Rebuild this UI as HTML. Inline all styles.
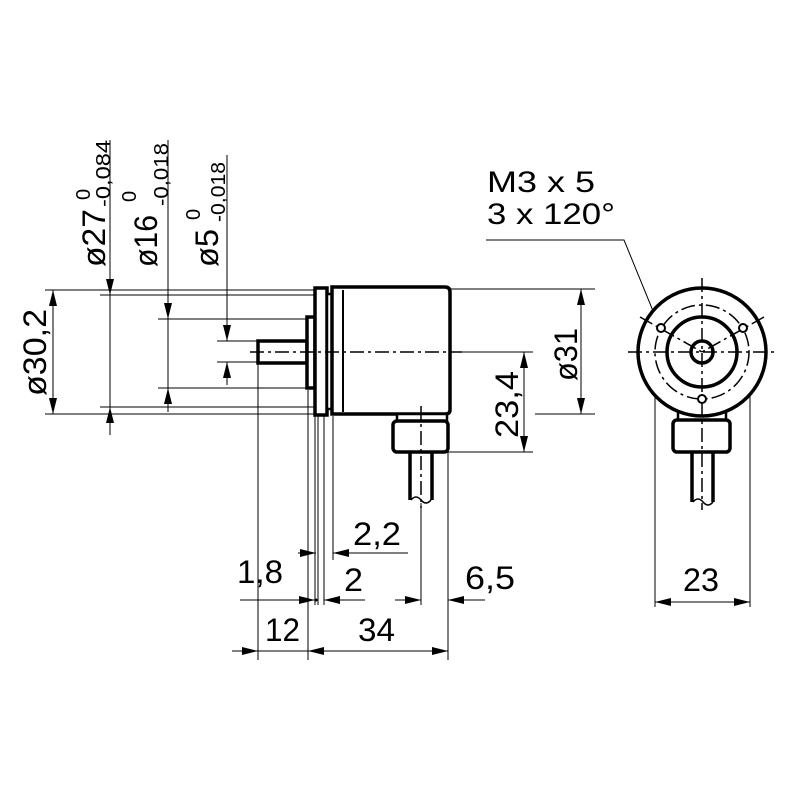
<!DOCTYPE html>
<html><head><meta charset="utf-8"><style>
html,body{margin:0;padding:0;background:#fff;}
svg{display:block;}
text{font-family:"Liberation Sans",sans-serif;fill:#000;}
</style></head><body>
<svg width="800" height="800" viewBox="0 0 800 800" xmlns="http://www.w3.org/2000/svg">
<defs>
<marker id="a" viewBox="0 0 16 8" refX="16" refY="4" markerWidth="16" markerHeight="8" markerUnits="userSpaceOnUse" orient="auto"><path d="M0,0 L16,4 L0,8 z" fill="#000"/></marker>
</defs>
<g stroke="#000" stroke-width="1" fill="none">
<line x1="45" y1="290" x2="315" y2="290"/>
<line x1="45" y1="414" x2="315" y2="414"/>
<line x1="100" y1="295" x2="315" y2="295"/>
<line x1="100" y1="407" x2="315" y2="407"/>
<line x1="158" y1="319" x2="307" y2="319"/>
<line x1="158" y1="388" x2="307" y2="388"/>
<line x1="217" y1="341" x2="257" y2="341"/>
<line x1="217" y1="362" x2="257" y2="362"/>
<line x1="53" y1="352" x2="53" y2="290" marker-end="url(#a)"/>
<line x1="53" y1="352" x2="53" y2="414" marker-end="url(#a)"/>
<line x1="110" y1="140" x2="110" y2="295" marker-end="url(#a)"/>
<line x1="110" y1="435" x2="110" y2="407" marker-end="url(#a)"/>
<line x1="110" y1="295" x2="110" y2="407"/>
<line x1="168" y1="140" x2="168" y2="319" marker-end="url(#a)"/>
<line x1="168" y1="412" x2="168" y2="388" marker-end="url(#a)"/>
<line x1="168" y1="319" x2="168" y2="388"/>
<line x1="227" y1="155" x2="227" y2="341" marker-end="url(#a)"/>
<line x1="227" y1="385" x2="227" y2="362" marker-end="url(#a)"/>
<line x1="450" y1="289" x2="595" y2="289"/>
<line x1="535" y1="414" x2="595" y2="414"/>
<line x1="581" y1="351" x2="581" y2="289" marker-end="url(#a)"/>
<line x1="581" y1="351" x2="581" y2="414" marker-end="url(#a)"/>
<line x1="450" y1="352" x2="533" y2="352"/>
<line x1="448" y1="452" x2="533" y2="452"/>
<line x1="524" y1="400" x2="524" y2="352" marker-end="url(#a)"/>
<line x1="524" y1="400" x2="524" y2="452" marker-end="url(#a)"/>
<line x1="258" y1="363" x2="258" y2="660"/>
<line x1="308" y1="390" x2="308" y2="660"/>
<line x1="315" y1="416" x2="315" y2="605"/>
<line x1="318" y1="416" x2="318" y2="605"/>
<line x1="324" y1="416" x2="324" y2="605"/>
<line x1="333" y1="416" x2="333" y2="560"/>
<line x1="421" y1="503" x2="421" y2="605"/>
<line x1="448" y1="452" x2="448" y2="660"/>
<line x1="298" y1="553" x2="316" y2="553" marker-end="url(#a)"/>
<line x1="408" y1="553" x2="333" y2="553" marker-end="url(#a)"/>
<line x1="240" y1="600" x2="315" y2="600" marker-end="url(#a)"/>
<line x1="365" y1="600" x2="324" y2="600" marker-end="url(#a)"/>
<line x1="395" y1="600" x2="421" y2="600" marker-end="url(#a)"/>
<line x1="485" y1="600" x2="448" y2="600" marker-end="url(#a)"/>
<line x1="232" y1="651" x2="258" y2="651" marker-end="url(#a)"/>
<line x1="258" y1="651" x2="308" y2="651"/>
<line x1="380" y1="651" x2="308" y2="651" marker-end="url(#a)"/>
<line x1="380" y1="651" x2="448" y2="651" marker-end="url(#a)"/>
<line x1="655" y1="380" x2="655" y2="607"/>
<line x1="750" y1="380" x2="750" y2="607"/>
<line x1="702" y1="602" x2="655" y2="602" marker-end="url(#a)"/>
<line x1="702" y1="602" x2="750" y2="602" marker-end="url(#a)"/>
<polyline points="486,240 624,240 660,328"/>
</g>
<circle cx="316" cy="600" r="1.5" fill="#000"/>

<g stroke="#000" stroke-width="3.5" fill="#fff">
<rect x="258" y="341" width="49" height="22"/>
<rect x="307" y="317" width="8" height="71"/>
<rect x="315" y="288" width="12" height="127"/>
<rect x="327" y="294" width="5" height="115" stroke-width="2.5"/>
<path d="M332,287 L445,287 Q450,287 450,292 L450,410 Q450,414 445,414 L332,414 Z"/>
<rect x="397" y="414" width="50" height="7" stroke-width="2.5"/>
<rect x="393" y="421" width="55" height="31" rx="4"/>
<line x1="410" y1="452" x2="410" y2="500"/>
<line x1="432" y1="452" x2="432" y2="500"/>
</g>
<line x1="343" y1="290" x2="343" y2="412" stroke="#000" stroke-width="2"/>
<path d="M411,500 q5,-6 10,0 q5,6 10,0" stroke="#000" stroke-width="1.5" fill="none"/>
<g stroke="#000" stroke-width="1.5" stroke-dasharray="14,4,3,4" fill="none">
<line x1="250" y1="352" x2="462" y2="352"/>
<line x1="421" y1="406" x2="421" y2="508"/>
</g>

<g stroke="#000" stroke-width="3.5" fill="#fff">
<rect x="678" y="409" width="48" height="12" stroke-width="2.5"/>
<rect x="673" y="420" width="57" height="32" rx="4"/>
<line x1="692" y1="452" x2="692" y2="502"/>
<line x1="713" y1="452" x2="713" y2="502"/>
<circle cx="702" cy="352" r="64"/>
<circle cx="702" cy="352" r="35"/>
<circle cx="702" cy="352" r="11"/>
</g>
<path d="M693,502 q5,-6 10,0 q5,6 10,0" stroke="#000" stroke-width="1.5" fill="none"/>
<g stroke="#000" stroke-width="1.5" stroke-dasharray="14,4,3,4" fill="none">
<circle cx="702" cy="352" r="47"/>
<line x1="628" y1="352" x2="776" y2="352"/>
<line x1="702" y1="278" x2="702" y2="510"/>
<line x1="640" y1="317" x2="702" y2="352"/>
<line x1="764" y1="317" x2="702" y2="352"/>
</g>
<g stroke="#000" stroke-width="2" fill="#fff">
<circle cx="661" cy="328" r="4"/>
<circle cx="743" cy="328" r="4"/>
<circle cx="702" cy="399" r="4"/>
</g>

<g font-size="32">
<text transform="translate(105,267) rotate(-90)" textLength="58" lengthAdjust="spacingAndGlyphs">ø27</text>
<text transform="translate(90,200) rotate(-90)" font-size="20">0</text>
<text transform="translate(110,207) rotate(-90)" font-size="20" textLength="67" lengthAdjust="spacingAndGlyphs">-0,084</text>
<text transform="translate(157,267) rotate(-90)" textLength="52" lengthAdjust="spacingAndGlyphs">ø16</text>
<text transform="translate(136,202) rotate(-90)" font-size="20">0</text>
<text transform="translate(168,206) rotate(-90)" font-size="20" textLength="63" lengthAdjust="spacingAndGlyphs">-0,018</text>
<text transform="translate(218,267) rotate(-90)" textLength="38" lengthAdjust="spacingAndGlyphs">ø5</text>
<text transform="translate(200,220) rotate(-90)" font-size="20">0</text>
<text transform="translate(225,222) rotate(-90)" font-size="20" textLength="60" lengthAdjust="spacingAndGlyphs">-0,018</text>
<text transform="translate(46,396) rotate(-90)" textLength="87" lengthAdjust="spacingAndGlyphs">ø30,2</text>
<text transform="translate(577,381) rotate(-90)" textLength="53" lengthAdjust="spacingAndGlyphs">ø31</text>
<text transform="translate(518,438) rotate(-90)" textLength="67" lengthAdjust="spacingAndGlyphs">23,4</text>
<text x="353" y="545" textLength="48" lengthAdjust="spacingAndGlyphs">2,2</text>
<text x="237" y="583" textLength="46" lengthAdjust="spacingAndGlyphs">1,8</text>
<text x="344" y="591" textLength="19" lengthAdjust="spacingAndGlyphs">2</text>
<text x="465" y="589" textLength="50" lengthAdjust="spacingAndGlyphs">6,5</text>
<text x="265" y="641" textLength="35" lengthAdjust="spacingAndGlyphs">12</text>
<text x="358" y="641" textLength="37" lengthAdjust="spacingAndGlyphs">34</text>
<text x="683" y="591" textLength="36" lengthAdjust="spacingAndGlyphs">23</text>
<text x="487" y="192" font-size="30" textLength="108" lengthAdjust="spacingAndGlyphs">M3 x 5</text>
<text x="487" y="224" font-size="30" textLength="128" lengthAdjust="spacingAndGlyphs">3 x 120°</text>
</g>
</svg>
</body></html>
